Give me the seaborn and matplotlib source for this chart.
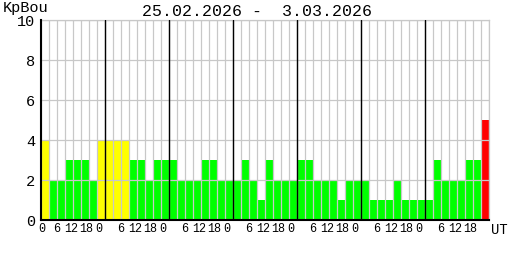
import numpy as np
import pandas as pd
import matplotlib
matplotlib.use("Agg")
import matplotlib.pyplot as plt
import matplotlib.transforms as mtransforms
import seaborn as sns

# ---------------- data ----------------
title_text = "25.02.2026 -  3.03.2026"
index_label = "KpBou"
unit_label = "UT"
kp = [4, 2, 2, 3, 3, 3, 2, 4,
      4, 4, 4, 3, 3, 2, 3, 3,
      3, 2, 2, 2, 3, 3, 2, 2,
      2, 3, 2, 1, 3, 2, 2, 2,
      3, 3, 2, 2, 2, 1, 2, 2,
      2, 1, 1, 1, 2, 1, 1, 1,
      1, 3, 2, 2, 2, 3, 3, 5]
hour_labels = ["0", "6", "12", "18"]
hour_values = [0, 6, 12, 18]
y_ticks = [0, 2, 4, 6, 8, 10]
bars_per_day = 8
n_days = 7

# ---------------- style ----------------
sns.set_theme(style="white")
plt.rcParams["font.family"] = ["Liberation Mono", "DejaVu Sans Mono"]

W, H = 508, 260
fig = plt.figure(figsize=(W / 100, H / 100), dpi=100)
fig.patch.set_facecolor("white")
ax = fig.add_axes([41 / W, 40 / H, 448 / W, 200 / H])
ax.set_facecolor("white")

df = pd.DataFrame({"idx": np.arange(len(kp)), "kp": kp})
df["level"] = np.where(df["kp"] >= 5, "storm",
                       np.where(df["kp"] >= 4, "active", "quiet"))
palette = {"quiet": "#00ff00", "active": "#ffff00", "storm": "#ff0000"}

sns.barplot(data=df, x="idx", y="kp", hue="level", palette=palette,
            dodge=False, width=1.0, saturation=1, linewidth=0,
            errorbar=None, legend=False, ax=ax)

n = len(kp)
ax.set_xlim(-0.5, n - 0.5)
ax.set_ylim(0, 10)

# grid on top of bars
ax.set_axisbelow(False)
ax.set_xticks([])
ax.set_xticks(np.arange(-0.5, n, 1.0), minor=True)
ax.set_yticks(y_ticks)
ax.set_yticklabels([str(v) for v in y_ticks], fontsize=11)
ax.grid(which="minor", axis="x", color="#c8c8c8", linewidth=0.9, zorder=2.5)
ax.grid(which="major", axis="y", color="#c8c8c8", linewidth=0.9, zorder=2.5)
ax.tick_params(which="both", length=0)
ax.tick_params(axis="y", pad=4, colors="black")
ax.set_xlabel("")
ax.set_ylabel("")

# day separators
for d in range(1, n_days):
    ax.axvline(d * bars_per_day - 0.5, color="black", linewidth=1.0, zorder=3)

for side in ["left", "bottom"]:
    ax.spines[side].set_color("black")
    ax.spines[side].set_linewidth(1.5)
    ax.spines[side].set_zorder(4)
for side in ["top", "right"]:
    ax.spines[side].set_color("#c8c8c8")
    ax.spines[side].set_linewidth(0.9)

# hour labels under the axis
blend = mtransforms.blended_transform_factory(ax.transData, ax.transAxes)
bar_hours = 24 / bars_per_day
px_offsets = {"0": -6, "6": 0, "12": -2, "18": -3}
for d in range(n_days):
    for lab, hv in zip(hour_labels, hour_values):
        xpos = d * bars_per_day + hv / bar_hours - 0.5
        off = px_offsets[lab]
        if d == 0 and lab == "0":
            off = 1
        tr = mtransforms.offset_copy(blend, fig=fig, x=off * 0.72, y=0,
                                     units="points")
        ax.text(xpos, -0.015, lab, transform=tr, ha="center", va="top",
                fontsize=8.5, color="black")

ax.text(1.0, -0.015, unit_label,
        transform=mtransforms.offset_copy(ax.transAxes, fig=fig, x=1.5,
                                          y=0, units="points"),
        ha="left", va="top", fontsize=10, color="black")

fig.text(3 / W, 1 - 1 / H, index_label, ha="left", va="top",
         fontsize=11, color="black")
fig.text(256.5 / W, 1 - 4 / H, title_text, ha="center", va="top",
         fontsize=12, color="black")

fig.savefig("out.png", dpi=100, facecolor="white")
